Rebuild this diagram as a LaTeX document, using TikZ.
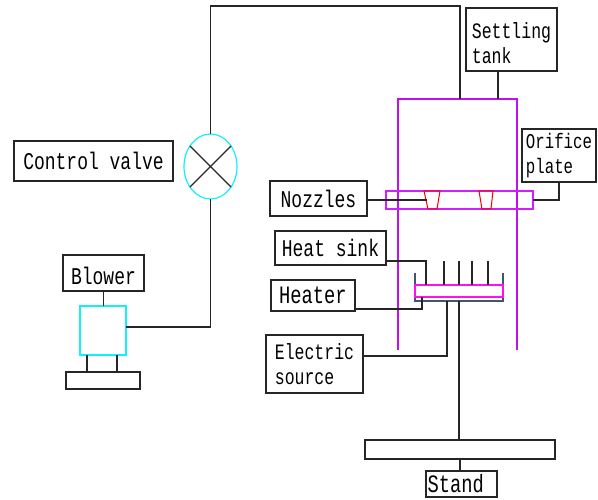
\documentclass[tikz,border=0pt]{standalone}
\usepackage{fontspec}
\usetikzlibrary{shapes.geometric}
\setmainfont[FakeStretch=0.75]{Liberation Mono}
\definecolor{tankpurple}{HTML}{C010F0}
\definecolor{platepurple}{HTML}{D020FF}
\definecolor{heaterpink}{HTML}{FF10F0}
\definecolor{traygray}{HTML}{40566A}
\definecolor{partcyan}{HTML}{10F0FF}
\newcommand{\dropline}{\rule{0pt}{24pt}}
\begin{document}
\begin{tikzpicture}[
            x=1pt,
            y=-1pt,
            line width=1.2pt,
            label box/.style={draw=black!85, line width=1.2pt, inner sep=0pt, outer sep=0pt, align=left},
            pipe/.style={draw=black!85, line width=1.2pt},
            tank wall/.style={draw=tankpurple, line width=1.2pt},
            cyan part/.style={draw=partcyan, line width=1.2pt, inner sep=0pt, outer sep=0pt},
            nozzle tip/.style={draw=red, line width=1pt}
        ]
        \useasboundingbox (0,0) rectangle (598,500);
        % labels: name, centre, size, font size, text
        \foreach \name/\x/\y/\w/\h/\size/\value in {
                settling/511.5/39.5/91/63/22/{\dropline Settling\\tank},
                orifice/559/155.5/74/53/21/{Orifice\\plate},
                valvebox/93.5/161/159/40/24/Control valve,
                nozzlebox/318.5/198.5/97/35/24/Nozzles,
                sinkbox/330.5/248/111/34/24/Heat sink,
                heaterbox/313/295.5/84/31/25/Heater,
                sourcebox/314.5/364/97/58/22/{Electric\\source},
                blowerbox/103.5/273/81/36/24/{\dropline Blower},
                standbox/461.5/484/71/26/25/Stand
            } {
                \node[label box, minimum width=\w, minimum height=\h, font=\fontsize{\size}{25}\selectfont] (\name) at (\x,\y) {\value};
            }
        \node[label box, minimum width=74, minimum height=17] (blowerbase) at (103,380.5) {};
        \node[label box, minimum width=190, minimum height=19] (table) at (460,449.5) {};
        \node[cyan part, rectangle, minimum width=46, minimum height=49] (blowerunit) at (103,330.5) {};
        \node[cyan part, ellipse, minimum width=53, minimum height=65] (valve) at (210.5,166.5) {};
        % tank and plate
        \coordinate (pipein) at (460,99);
        \coordinate (tankvent) at (498,99);
        \draw[tank wall] (398,350) -- (398,99) -- (517,99) -- (517,350);
        \node[draw=platepurple, line width=1.2pt, inner sep=0pt, outer sep=0pt, minimum width=147, minimum height=18] (plate) at (459.5,200) {};
        % nozzles
        \draw[nozzle tip] (424,191) -- (440,191) -- (437,209) -- (428,209) -- cycle;
        \draw[nozzle tip] (479,191) -- (493,191) -- (491,209) -- (482,209) -- cycle;
        \coordinate (nozzleend) at (427,200);
        % heater and fins
        \draw[draw=traygray] (415,273) -- (415,301) -- (503,301) -- (503,273);
        \node[draw=heaterpink, line width=1.2pt, inner sep=0pt, outer sep=0pt, minimum width=88, minimum height=12] (heater) at (459,291) {};
        \foreach \x in {426,444,459,472,488} {
                \coordinate (fin\x) at (\x,285);
            }
        \foreach \x in {444,459,472,488} {
                \draw[pipe] (fin\x) -- ++(0,-24);
            }
        \coordinate (traytop) at (459,301);
        \coordinate (traysource) at (447,301);
        \coordinate (trayheater) at (422,297);
        % pipes and leads
        \draw[pipe] (pipein) -- (460,6) -- (210.5,6) -- (valve.north);
        \draw[pipe] (valve.south) -- (210.5,327) -- (blowerunit.east |- 0,327);
        \draw[pipe] (valve.135) -- (valve.315);
        \draw[pipe] (valve.45) -- (valve.225);
        \draw[pipe] (blowerbox.south) -- (blowerbox.south |- blowerunit.north);
        \draw[pipe] ([xshift=-16pt]blowerunit.south) -- ([xshift=-16pt]blowerbase.north);
        \draw[pipe] ([xshift=14pt]blowerunit.south) -- ([xshift=14pt]blowerbase.north);
        \draw[pipe] (settling.south -| tankvent) -- (tankvent);
        \draw[pipe] (nozzlebox.east |- nozzleend) -- (nozzleend);
        \draw[pipe] (plate.east) -| (orifice.south);
        \draw[pipe] ([yshift=-13pt]sinkbox.east) -| (fin426);
        \draw[pipe] ([yshift=-13.5pt]heaterbox.east) -| (trayheater);
        \draw[pipe] ([yshift=8pt]sourcebox.east) -| (traysource);
        \draw[pipe] (traytop) -- (table.north -| traytop);
        \draw[pipe] (table.south) -- (standbox.north -| table.south);
    \end{tikzpicture}
\end{document}
